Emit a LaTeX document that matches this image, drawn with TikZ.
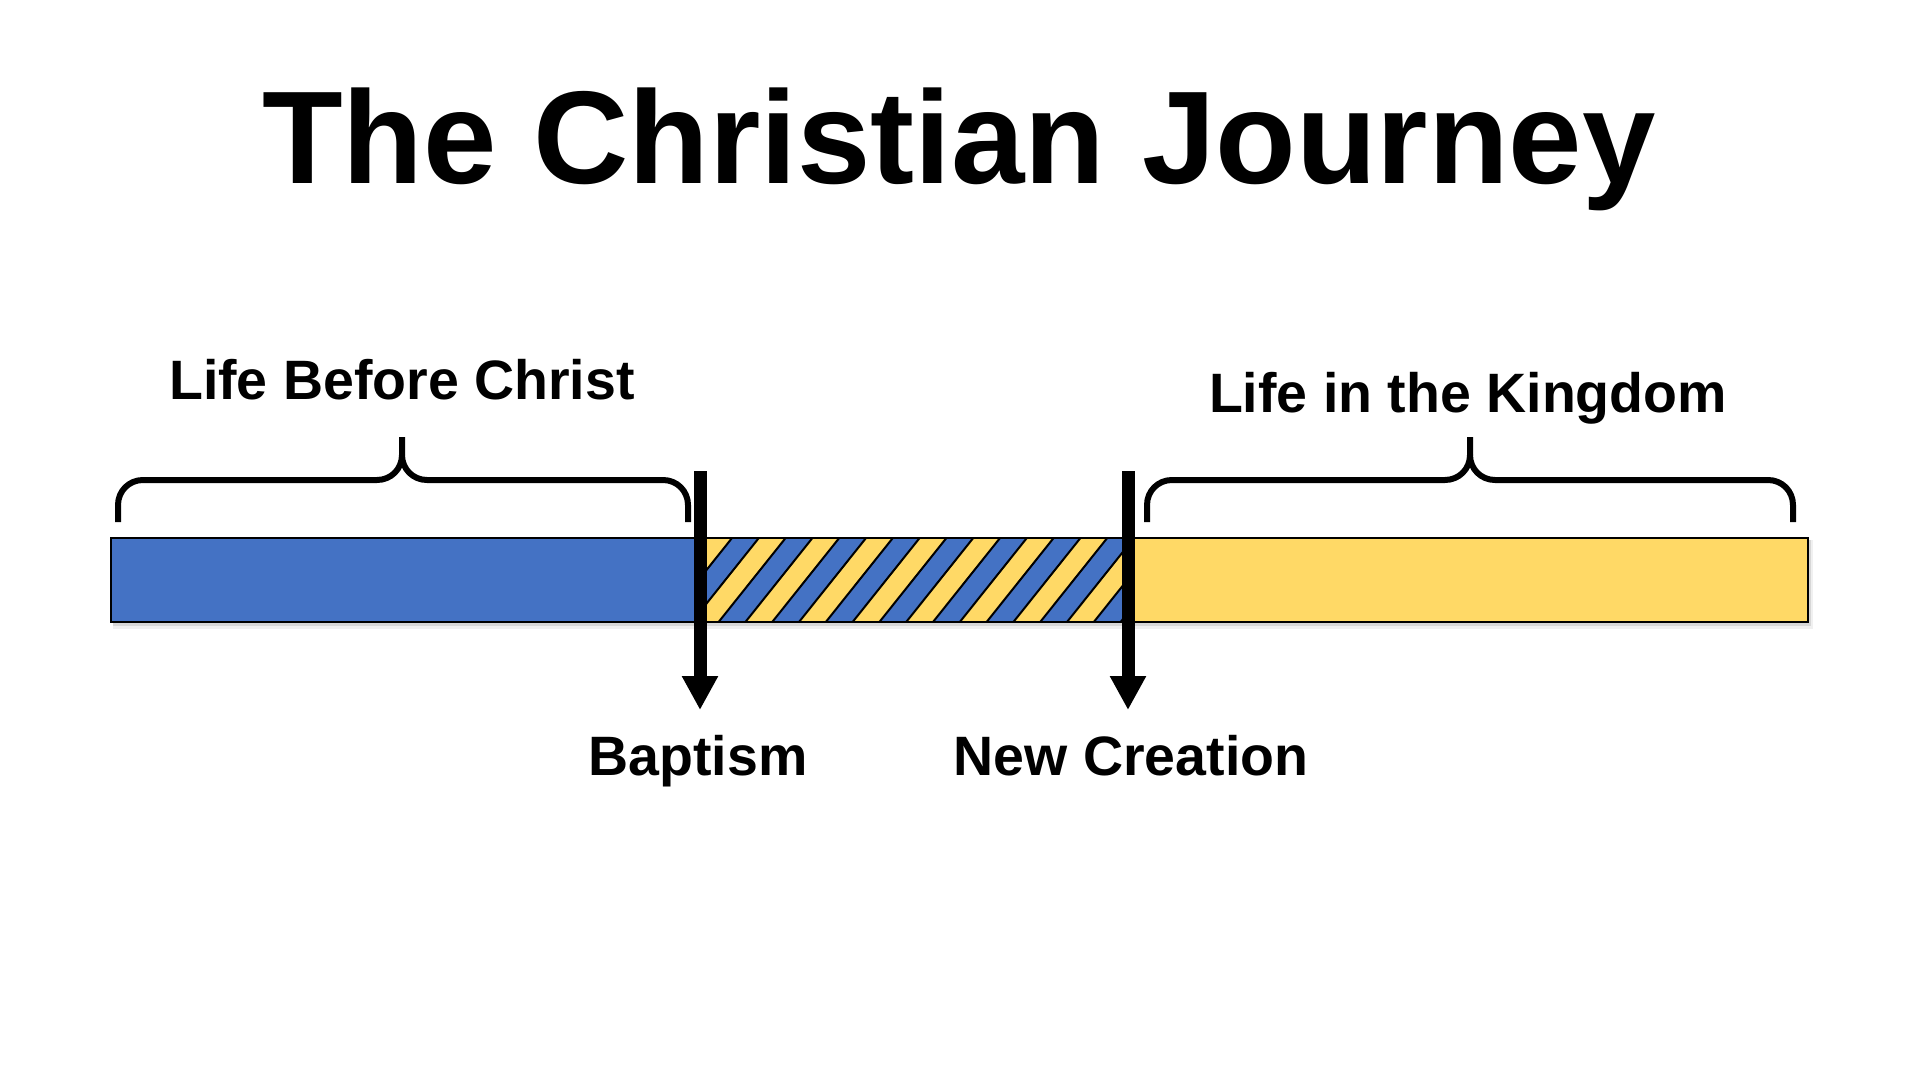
\documentclass[tikz,border=0pt]{standalone}
\usepackage{fontspec}
\setmainfont{Liberation Sans}
\usetikzlibrary{arrows.meta}
\definecolor{barblue}{HTML}{4472C4}
\definecolor{baryellow}{HTML}{FFD966}
\begin{document}
\begin{tikzpicture}[x=0.5pt,y=-0.5pt,
  lbl/.style={anchor=base,inner sep=0pt,font=\bfseries\fontsize{27.75}{30}\selectfont},
  ttl/.style={anchor=base,inner sep=0pt,font=\bfseries\fontsize{66}{70}\selectfont},
  bracepath/.style={line width=3pt,line join=round},
  arr/.style={line width=6.5pt,-{Triangle[width=17pt,length=17pt]}},
  seg/.style={draw=black,line width=1pt},
]
\useasboundingbox (0,0) rectangle (1920,1080);
\fill[white] (0,0) rectangle (1920,1080);

% title
\node[ttl] (title) at (959,184) {The Christian Journey};

% shadow
\fill[black,opacity=0.06] (113,540) rectangle (1813,629);
\fill[black,opacity=0.10] (113,540) rectangle (1811,626);

% bar segments
\fill[barblue] (111,538) rectangle (701,622);
\begin{scope}
  \clip (701,538) rectangle (1128,622);
  \fill[baryellow] (701,538) rectangle (1128,622);
  \foreach \k in {-4,-2,...,16} {
    \fill[barblue] ({732+26.8*\k},538) -- ({732+26.8*(\k+1)},538) -- ({665+26.8*(\k+1)},622) -- ({665+26.8*\k},622) -- cycle;
  }
  \foreach \k in {-4,...,17} {
    \draw[line width=1pt] ({732+26.8*\k},538) -- ({665+26.8*\k},622);
  }
\end{scope}
\fill[baryellow] (1128,538) rectangle (1808,622);
\draw[seg] (111,538) rectangle (701,622);
\draw[seg] (701,538) rectangle (1128,622);
\draw[seg] (1128,538) rectangle (1808,622);

% braces
\draw[bracepath] (118,522) -- (118,505) .. controls (118,491) and (129,480) .. (143,480)
  -- (377,480) .. controls (391,480) and (402,469) .. (402,455) -- (402,437);
\draw[bracepath] (402,455) .. controls (402,469) and (413,480) .. (427,480)
  -- (663,480) .. controls (677,480) and (688,491) .. (688,505) -- (688,522);
\draw[bracepath] (1147,522) -- (1147,505) .. controls (1147,491) and (1158,480) .. (1172,480)
  -- (1445,480) .. controls (1459,480) and (1470,469) .. (1470,455) -- (1470,437);
\draw[bracepath] (1470,455) .. controls (1470,469) and (1481,480) .. (1495,480)
  -- (1768,480) .. controls (1782,480) and (1793,491) .. (1793,505) -- (1793,522);

% arrows
\coordinate (bapTop) at (700,471);
\coordinate (bapEnd) at (700,710);
\coordinate (newTop) at (1128,471);
\coordinate (newEnd) at (1128,710);
\draw[arr] (bapTop) -- (bapEnd);
\draw[arr] (newTop) -- (newEnd);

% labels
\node[lbl] (lbc) at (402,399) {Life Before Christ};
\node[lbl] (lik) at (1468,412) {Life in the Kingdom};
\node[lbl] (bap) at (698,775) {Baptism};
\node[lbl] (newc) at (1131,775) {New Creation};
\end{tikzpicture}
\end{document}
